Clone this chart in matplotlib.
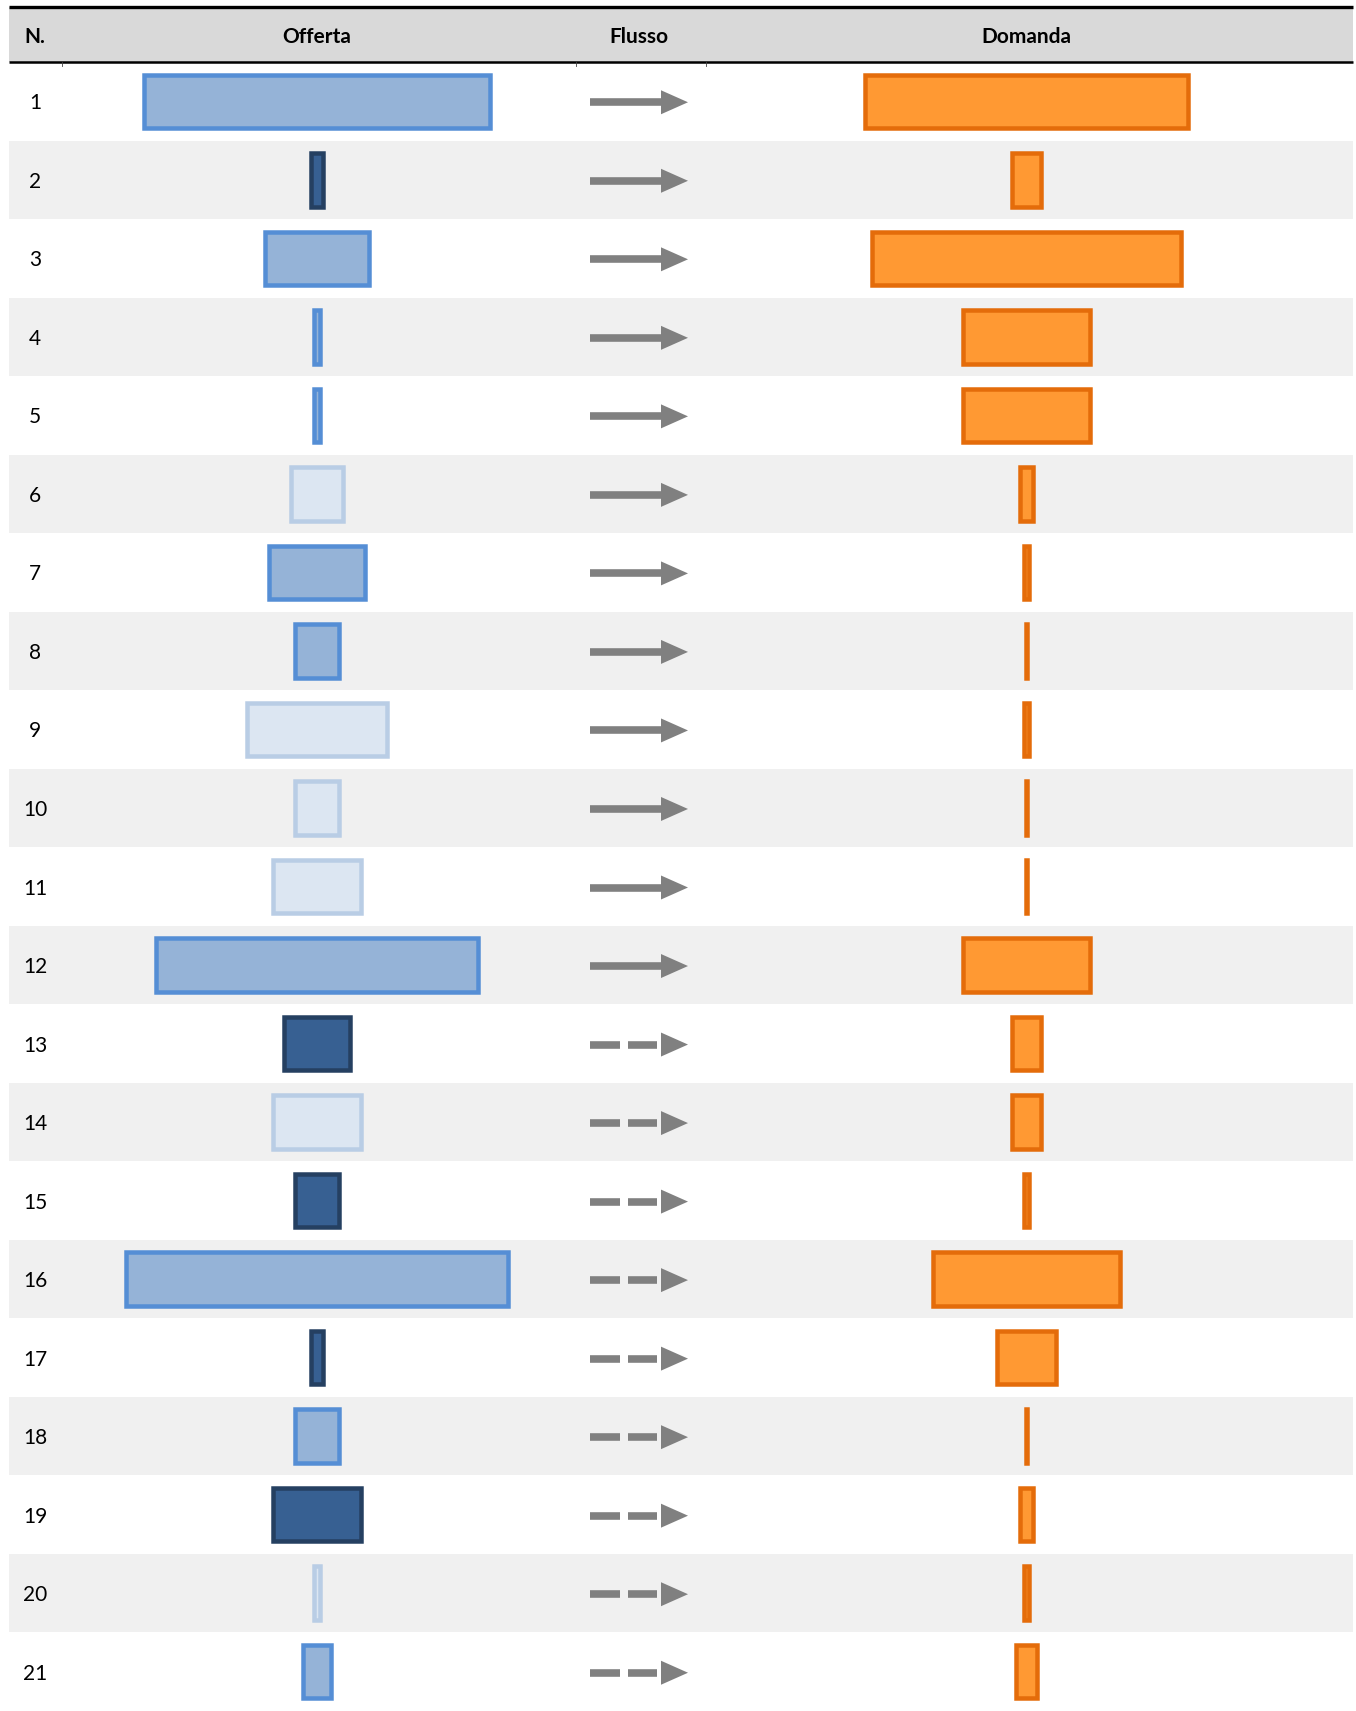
import matplotlib
matplotlib.use('Agg')
import matplotlib.pyplot as plt
from matplotlib.patches import Polygon

# Dati della tabella (larghezze, unita' relative)
numeri = list(range(1, 22))
offerta = [321, 16, 99, 9, 9, 51, 92, 44, 133, 44, 85, 300, 65, 85, 44, 355, 16, 44, 85, 9, 30]
domanda = [300, 30, 287, 120, 120, 16, 9, 4, 9, 4, 4, 120, 30, 30, 9, 176, 58, 4, 16, 9, 23]
livello = ['medio', 'scuro', 'medio', 'medio', 'medio', 'chiaro', 'medio', 'medio', 'chiaro',
           'chiaro', 'chiaro', 'medio', 'scuro', 'chiaro', 'scuro', 'medio', 'scuro', 'medio',
           'scuro', 'chiaro', 'medio']
flusso = ['continuo'] * 12 + ['tratteggiato'] * 9
intestazioni = ['N.', 'Offerta', 'Flusso', 'Domanda']

# Colori per livello di offerta (riempimento, bordo)
colori_offerta = {
    'medio': ('#95B3D7', '#558ED5'),
    'scuro': ('#376092', '#254061'),
    'chiaro': ('#DCE6F2', '#B9CDE5'),
}
colore_domanda = ('#FF9933', '#E46C0A')
grigio_freccia = '#808080'

W, H = 1356, 1711
k = 1.0909          # fattore di scala unita' -> pixel
bordo = 4.5         # spessore del bordo in pixel
lw_pt = bordo * 72 / 100

plt.rcParams['font.family'] = ['Lato', 'DejaVu Sans']

fig = plt.figure(figsize=(W / 100, H / 100), dpi=100)
ax = fig.add_axes([0, 0, 1, 1])
ax.set_xlim(0, W)
ax.set_ylim(H, 0)
ax.axis('off')

x_sx, x_dx = 9, 1353
y_top, y_head = 7, 62
passo = (H - y_head) / len(numeri)
centri = [y_head + passo * (i + 0.5) for i in range(len(numeri))]

# righe alternate
for i, yc in enumerate(centri):
    if i % 2 == 1:
        ax.fill_between([x_sx, x_dx], yc - passo / 2, yc + passo / 2, color='#F0F0F0', lw=0, zorder=0)

# intestazione
ax.fill_between([x_sx, x_dx], y_top, y_head, color='#D9D9D9', lw=0, zorder=0)
ax.plot([x_sx, x_dx], [y_top, y_top], color='black', lw=2.4, solid_capstyle='butt', zorder=3)
ax.plot([x_sx, x_dx], [y_head, y_head], color='black', lw=1.8, solid_capstyle='butt', zorder=3)
for xt in [62, 576, 706]:
    ax.plot([xt, xt], [y_head, y_head + 4], color='#404040', lw=0.6, zorder=3)

x_num, x_off, x_flu, x_dom = 35, 317, 639, 1026.5
for testo, xc in zip(intestazioni, [x_num, x_off, x_flu, x_dom]):
    ax.text(xc, (y_top + y_head) / 2 + 2, testo, ha='center', va='center',
            fontsize=15, fontweight='bold', color='black')

alt_barra = 58 - bordo

# Offerta
larg_off = [max(v * k - bordo, 0.3) for v in offerta]
ax.barh(centri, larg_off, left=[x_off - w / 2 for w in larg_off], height=alt_barra,
        color=[colori_offerta[l][0] for l in livello],
        edgecolor=[colori_offerta[l][1] for l in livello],
        linewidth=lw_pt, zorder=2)

# Domanda
larg_dom = [max(v * k - bordo, 0.3) for v in domanda]
ax.barh(centri, larg_dom, left=[x_dom - w / 2 for w in larg_dom], height=alt_barra,
        color=colore_domanda[0], edgecolor=colore_domanda[1],
        linewidth=lw_pt, zorder=2)

# Frecce di flusso
x0, x_base, x_punta = 590, 661, 688
sp_asta = 7.6 * 72 / 100
for yc, tipo, n in zip(centri, flusso, numeri):
    ya = yc + 1
    if tipo == 'continuo':
        ax.plot([x0, x_base + 1], [ya, ya], color=grigio_freccia, lw=sp_asta,
                solid_capstyle='butt', zorder=2)
    else:
        ax.plot([x0, 620], [ya, ya], color=grigio_freccia, lw=sp_asta, solid_capstyle='butt', zorder=2)
        ax.plot([628, 657], [ya, ya], color=grigio_freccia, lw=sp_asta, solid_capstyle='butt', zorder=2)
    ax.add_patch(Polygon([[x_base, ya - 12], [x_punta, ya], [x_base, ya + 12]],
                         closed=True, color=grigio_freccia, lw=0, zorder=2))
    ax.text(x_num, yc + 2, str(n), ha='center', va='center', fontsize=15, color='black')

fig.savefig('out.png', dpi=100)
